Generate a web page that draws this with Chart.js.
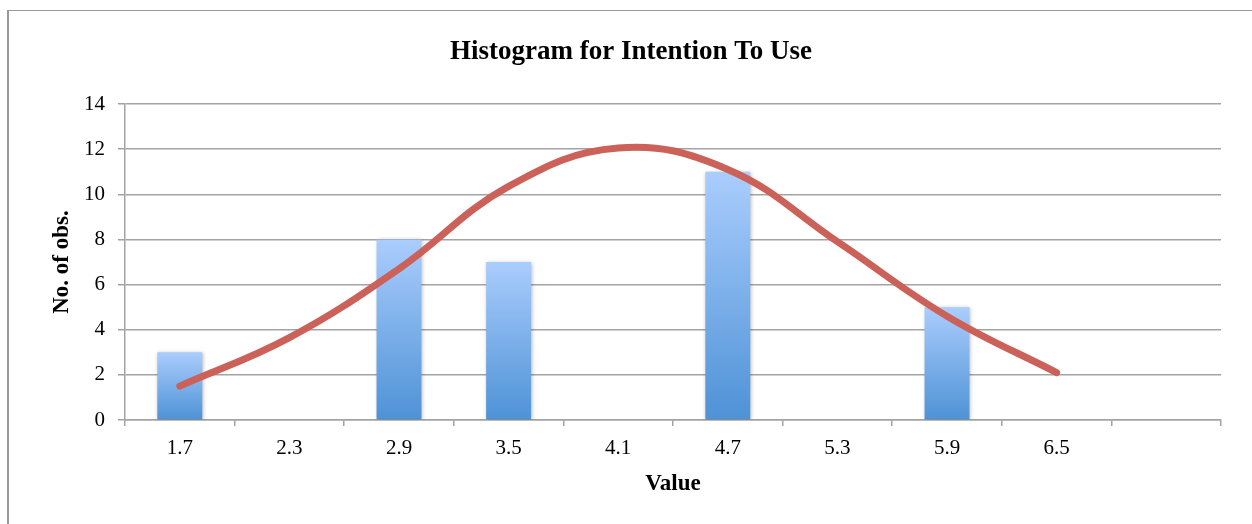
<!DOCTYPE html>
<html>
<head>
<meta charset="utf-8">
<script src="https://cdn.jsdelivr.net/npm/chart.js@4.4.1/dist/chart.umd.min.js"></script>
<style>
  html, body { margin: 0; padding: 0; background: #fff; }
  #wrap { position: relative; width: 1252px; height: 524px; overflow: hidden; }
  #frame { position: absolute; left: 7px; top: 10px; right: -5px; bottom: -5px;
           border-top: 1px solid #9a9a9a; border-left: 2px solid #9a9a9a; pointer-events: none; }
  canvas { position: absolute; left: 0; top: 0; }
</style>
</head>
<body>
<div id="wrap">
  <canvas id="c" width="1252" height="524"></canvas>
  <div id="frame"></div>
</div>
<script>
const categories = ['1.7', '2.3', '2.9', '3.5', '4.1', '4.7', '5.3', '5.9', '6.5', ''];
const observations = [3, 0, 8, 7, 0, 11, 0, 5, 0, 0];
const normalCurve = [1.5, 3.65, 6.7, 10.35, 12.05, 11.1, 7.9, 4.6, 2.1, null];
const yTicks = [0, 2, 4, 6, 8, 10, 12, 14];

const gridColor = '#a3a3a3';
const serif = "'Liberation Serif', 'Times New Roman', serif";

function barGradient(c) {
  const chart = c.chart;
  const ys = chart.scales && chart.scales.y;
  if (c.type !== 'data' || !ys || c.raw == null) return '#7fb0ea';
  const top = ys.getPixelForValue(c.raw);
  const base = ys.getPixelForValue(0);
  if (!isFinite(top) || !isFinite(base) || Math.abs(base - top) < 0.5) return '#7fb0ea';
  const g = chart.ctx.createLinearGradient(0, top, 0, base);
  g.addColorStop(0, '#aacdfd');
  g.addColorStop(1, '#4e92d6');
  return g;
}

const shadowPlugin = {
  id: 'barShadow',
  beforeDatasetDraw(chart, args) {
    if (args.meta.type === 'bar') {
      const ctx = chart.ctx;
      ctx.save();
      ctx.shadowColor = 'rgba(0,0,0,0.28)';
      ctx.shadowBlur = 4;
      ctx.shadowOffsetX = 1;
      ctx.shadowOffsetY = 1;
    }
  },
  afterDatasetDraw(chart, args) {
    if (args.meta.type === 'bar') chart.ctx.restore();
  }
};

new Chart(document.getElementById('c'), {
  data: {
    labels: categories,
    datasets: [
      {
        type: 'line',
        label: 'Normal',
        data: normalCurve,
        borderColor: '#cb6158',
        borderWidth: 7,
        borderCapStyle: 'round',
        borderJoinStyle: 'round',
        tension: 0.4,
        pointRadius: 0,
        fill: false,
        order: 0
      },
      {
        type: 'bar',
        label: 'No. of obs.',
        data: observations,
        backgroundColor: barGradient,
        borderWidth: 0,
        barPercentage: 0.41,
        categoryPercentage: 1.0,
        order: 1
      }
    ]
  },
  plugins: [shadowPlugin],
  options: {
    responsive: false,
    animation: false,
    devicePixelRatio: 1,
    layout: { padding: { left: 41, right: 31, top: 0, bottom: 0 } },
    plugins: {
      legend: { display: false },
      tooltip: { enabled: false },
      title: {
        display: true,
        text: 'Histogram for Intention To Use',
        color: '#000',
        font: { family: serif, size: 27, weight: 'bold', lineHeight: 1.2 },
        padding: { top: 36, bottom: 35.6 }
      }
    },
    scales: {
      x: {
        offset: true,
        grid: { display: true, drawOnChartArea: false, drawTicks: true, tickLength: 6, color: gridColor, lineWidth: 1.5, offset: true },
        border: { display: true, color: gridColor, width: 1.5 },
        ticks: { color: '#000', font: { family: serif, size: 21 }, padding: 10, maxRotation: 0, autoSkip: false },
        title: { display: true, text: 'Value', color: '#000', font: { family: serif, size: 23, weight: 'bold', lineHeight: 1.2 }, padding: { top: 0, bottom: 26 } },
        afterFit(scale) { scale.height = 104; }
      },
      y: {
        min: 0,
        max: 14,
        afterBuildTicks(scale) { scale.ticks = yTicks.map(v => ({ value: v })); },
        grid: { color: gridColor, lineWidth: 1.5, drawTicks: true, tickLength: 7 },
        border: { display: true, color: gridColor, width: 1.5 },
        ticks: { color: '#000', font: { family: serif, size: 21 }, padding: 13 },
        title: { display: true, text: 'No. of obs.', color: '#000', font: { family: serif, size: 23, weight: 'bold', lineHeight: 1.2 }, padding: { top: 7, bottom: 0 } },
        afterFit(scale) { scale.width = 84; }
      }
    }
  }
});
</script>
</body>
</html>
